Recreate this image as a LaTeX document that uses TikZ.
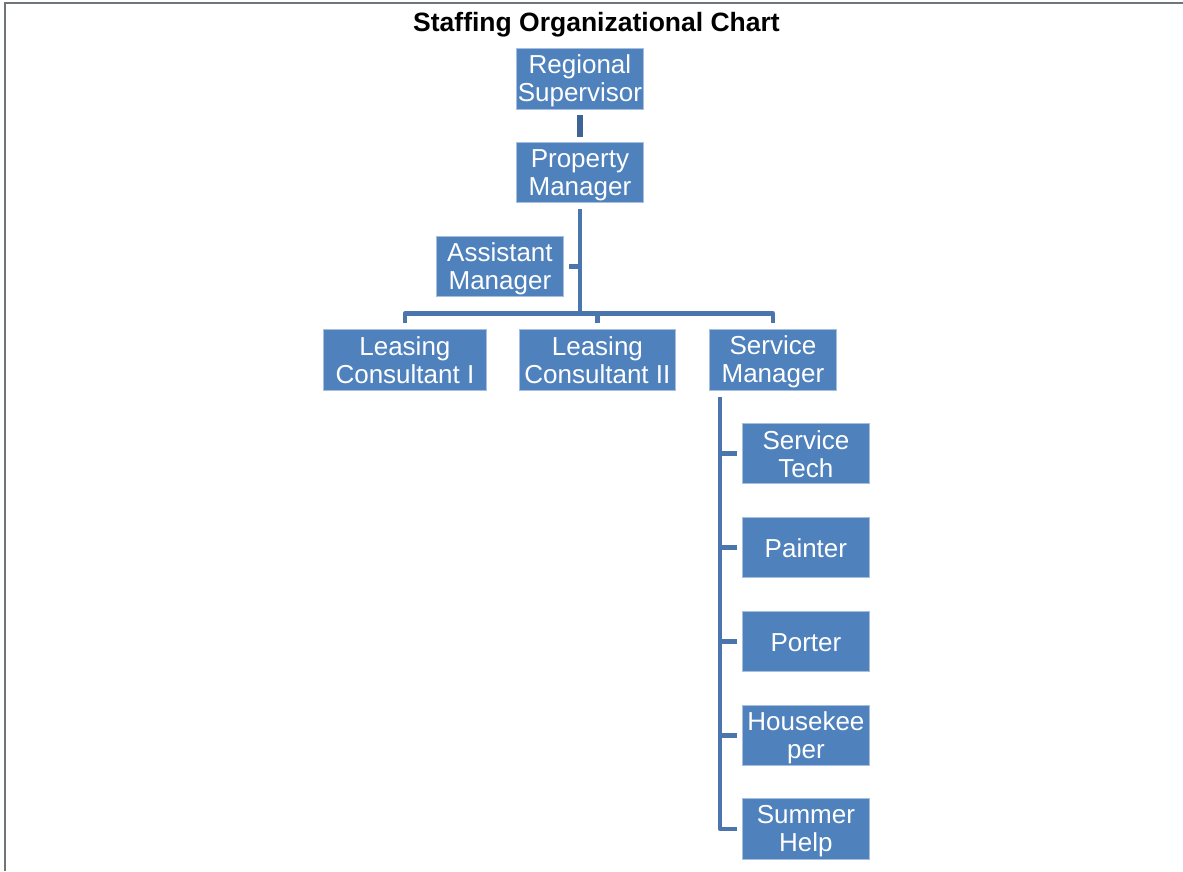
\documentclass[tikz,border=0pt]{standalone}
\usepackage{fontspec}
\setmainfont{Liberation Sans}
\usetikzlibrary{calc}
\definecolor{boxblue}{HTML}{4F81BD}
\definecolor{boxedge}{HTML}{A7BFDE}
\definecolor{linkblue}{HTML}{4A76AD}
\definecolor{topblue}{HTML}{3D6494}
\definecolor{framegray}{HTML}{6D757D}
% even line box so that every box text sits at the same height
\newcommand\lnstrut{\rule[-3pt]{0pt}{25.6pt}}
\tikzset{
  role/.style={anchor=north west, fill=boxblue, draw=boxedge, line width=0.8pt,
    inner sep=0pt, text=white, align=center,
    font=\fontsize{26}{28}\selectfont},
  link/.style={draw=linkblue, line width=4.8pt, line join=round},
}
\begin{document}
\begin{tikzpicture}[x=1pt,y=-1pt]
  \useasboundingbox (0,0) rectangle (1183,871);
  % page frame (top and left edges)
  \draw[framegray, line width=2.5pt] (5,871) -- (5,3) -- (1183,3);

  \node[font=\bfseries\fontsize{26.5}{30}\selectfont] (title) at (596.5,25) {Staffing Organizational Chart};

  % boxes
  \node[role, minimum width=127pt, minimum height=61pt] (rs)  at (516,48)  {\lnstrut Regional\\\lnstrut Supervisor};
  \node[role, minimum width=127pt, minimum height=60pt] (pm)  at (516,142) {\lnstrut Property\\\lnstrut Manager};
  \node[role, minimum width=127pt, minimum height=60pt] (am)  at (436,236) {\lnstrut Assistant\\\lnstrut Manager};
  \node[role, minimum width=163pt, minimum height=61pt] (lc1) at (323,329) {\lnstrut Leasing\\\lnstrut Consultant I};
  \node[role, minimum width=156pt, minimum height=61pt] (lc2) at (519,329) {\lnstrut Leasing\\\lnstrut Consultant II};
  \node[role, minimum width=127pt, minimum height=61pt] (sm)  at (709,329) {\lnstrut Service\\\lnstrut Manager};
  \node[role, minimum width=127pt, minimum height=60pt] (st)  at (742,423) {\lnstrut Service\\\lnstrut Tech};
  \node[role, minimum width=127pt, minimum height=60pt] (pa)  at (742,517) {\lnstrut Painter};
  \node[role, minimum width=127pt, minimum height=60pt] (po)  at (742,611) {\lnstrut Porter};
  \node[role, minimum width=127pt, minimum height=60pt] (hk)  at (742,705) {\lnstrut Housekee\\\lnstrut per};
  \node[role, minimum width=127pt, minimum height=61pt] (sh)  at (742,798) {\lnstrut Summer\\\lnstrut Help};

  % connectors
  \coordinate (bus) at ($(pm.south)+(0,111)$);
  \coordinate (trk) at ($(sm.south west)+(11,6)$);

  \draw[link, draw=topblue, line width=5.5pt] ([yshift=-5pt]rs.south) -- ([yshift=5pt]pm.north);
  \draw[link] ([yshift=-6pt]pm.south) -- (bus);
  \draw[link] (bus |- am.east) -- ([xshift=5pt]am.east);
  \draw[link] ([yshift=6pt]lc1.north) |- (bus) -| ([yshift=6pt]sm.north);
  \draw[link] ([yshift=6pt]lc2.north) -- (lc2.north |- bus);
  \draw[link] (trk) -- (trk |- sh.west) -- ([xshift=-5pt]sh.west);
  \draw[link] (trk |- st.west) -- ([xshift=-5pt]st.west);
  \draw[link] (trk |- pa.west) -- ([xshift=-5pt]pa.west);
  \draw[link] (trk |- po.west) -- ([xshift=-5pt]po.west);
  \draw[link] (trk |- hk.west) -- ([xshift=-5pt]hk.west);
\end{tikzpicture}
\end{document}
